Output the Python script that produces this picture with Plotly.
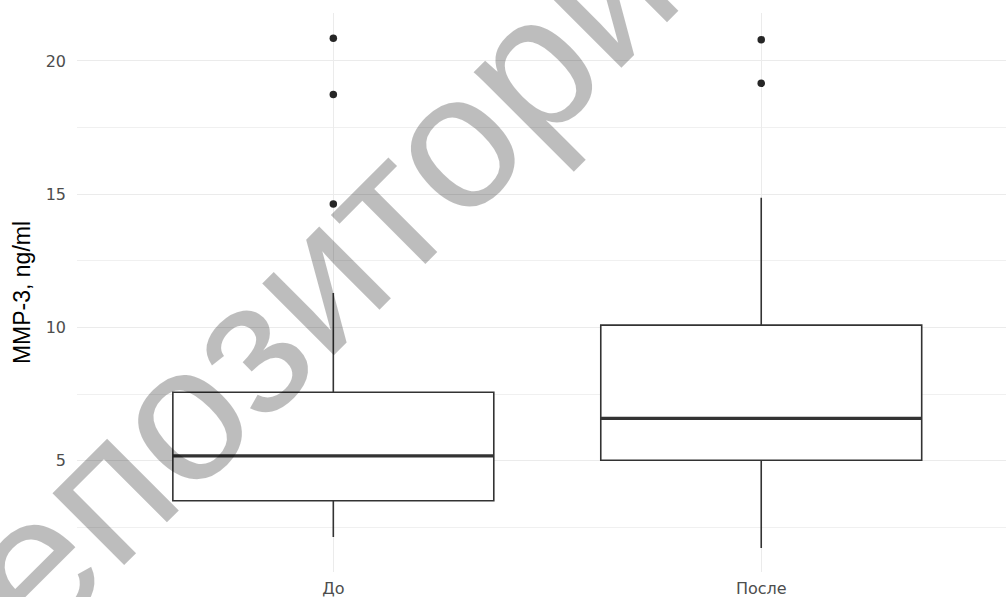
import plotly.graph_objects as go

# ---- data ----
categories = ["До", "После"]
q1 = [3.50, 5.02]
median = [5.18, 6.59]
q3 = [7.57, 10.09]
lower_whisker = [2.14, 1.73]
upper_whisker = [11.29, 14.87]
outliers = [[14.63, 18.74, 20.85], [19.16, 20.80]]
y_title = "MMP-3, ng/ml"
watermark = "репозиторий"

positions = list(range(len(categories)))
box_width = 0.75
dark = "#333333"

fig = go.Figure()

for i, p in enumerate(positions):
    fig.add_trace(go.Box(
        x=[p], q1=[q1[i]], median=[median[i]], q3=[q3[i]],
        lowerfence=[lower_whisker[i]], upperfence=[upper_whisker[i]],
        width=box_width, whiskerwidth=0,
        fillcolor="white", line=dict(color=dark, width=1.6),
        boxpoints=False, showlegend=False, name=categories[i],
    ))
    # thicker median line, as in ggplot2
    fig.add_trace(go.Scatter(
        x=[p - box_width / 2, p + box_width / 2], y=[median[i], median[i]],
        mode="lines", line=dict(color=dark, width=3.2),
        showlegend=False, hoverinfo="skip",
    ))
    fig.add_trace(go.Scatter(
        x=[p] * len(outliers[i]), y=outliers[i], mode="markers",
        marker=dict(color="#262626", size=7.5),
        showlegend=False,
    ))

fig.update_layout(
    width=1006, height=597,
    margin=dict(l=77, r=0, t=13, b=25),
    paper_bgcolor="white", plot_bgcolor="white",
    font=dict(family="DejaVu Sans, Liberation Sans, Arial", color="#4d4d4d", size=16),
    xaxis=dict(
        range=[-0.599, 1.572], tickvals=positions, ticktext=categories,
        showgrid=True, gridcolor="#ebebeb", gridwidth=1.4, zeroline=False,
        showline=False, ticks="", ticklabelstandoff=5,
        tickfont=dict(size=16, color="#4d4d4d"),
    ),
    yaxis=dict(
        range=[0.826, 21.80], tickvals=[5, 10, 15, 20],
        showgrid=True, gridcolor="#ebebeb", gridwidth=1.4, zeroline=False,
        showline=False, ticks="", ticklabelstandoff=10,
        tickfont=dict(size=16, color="#4d4d4d"),
        minor=dict(tickvals=[2.5, 7.5, 12.5, 17.5], showgrid=True,
                   gridcolor="#f0f0f0", gridwidth=1),
        title=dict(text=y_title, standoff=8,
                   font=dict(family="Liberation Sans Narrow, Arial Narrow, Liberation Sans",
                             size=23, color="black")),
    ),
    annotations=[dict(
        text=watermark, xref="paper", yref="paper",
        x=0.258, y=0.525, xanchor="center", yanchor="middle",
        showarrow=False, textangle=-45,
        font=dict(family="Liberation Sans, Arial", size=192, color="rgba(0,0,0,0.26)"),
    )],
)

fig.write_html("out.html", config={"displayModeBar": False},
               post_script="document.body.style.margin='0';")
